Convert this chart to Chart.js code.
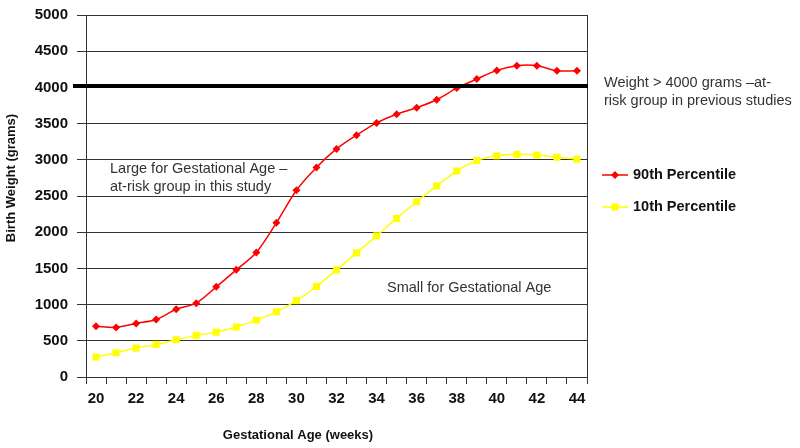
<!DOCTYPE html>
<html>
<head>
<meta charset="utf-8">
<script src="https://cdn.jsdelivr.net/npm/chart.js@4/dist/chart.umd.min.js"></script>
<style>
  html, body { margin: 0; padding: 0; background: #fff; }
  #wrap { width: 800px; height: 448px; }
</style>
</head>
<body>
<div id="wrap"><canvas id="c" width="800" height="448"></canvas></div>
<script>
// ── Data ────────────────────────────────────────────────────────────────────
const weeks = [20, 21, 22, 23, 24, 25, 26, 27, 28, 29, 30, 31, 32, 33, 34, 35, 36, 37, 38, 39, 40, 41, 42, 43, 44];
const p90   = [700, 685, 740, 795, 935, 1020, 1245, 1480, 1720, 2130, 2580, 2895, 3150, 3340, 3510, 3630, 3720, 3830, 3990, 4115, 4235, 4300, 4300, 4230, 4230];
const p10   = [275, 335, 400, 450, 515, 575, 620, 690, 785, 900, 1055, 1250, 1480, 1715, 1950, 2190, 2420, 2640, 2845, 2990, 3055, 3075, 3065, 3035, 3010];
const seriesNames = ['90th Percentile', '10th Percentile'];
const yMax = 5000, yStep = 500;
const threshold = 4000;

const FONT = "'Liberation Sans', Arial, sans-serif";

// ── Extras: threshold line, border, titles, notes, legend ───────────────────
const extras = {
  id: 'extras',
  afterDatasetsDraw(chart) {
    const { ctx, chartArea: a, scales: { y } } = chart;
    ctx.save();

    // right border
    ctx.strokeStyle = '#333';
    ctx.lineWidth = 1;
    ctx.beginPath();
    ctx.moveTo(a.right + 0.5, a.top);
    ctx.lineTo(a.right + 0.5, a.bottom);
    ctx.stroke();

    // thick 4000 g line
    const ty = y.getPixelForValue(threshold) - 1.5;
    ctx.strokeStyle = '#000';
    ctx.lineWidth = 4;
    ctx.beginPath();
    ctx.moveTo(a.left - 13, ty);
    ctx.lineTo(a.right + 1, ty);
    ctx.stroke();

    // axis titles
    ctx.fillStyle = '#111';
    ctx.font = 'bold 13px ' + FONT;
    ctx.textAlign = 'center';
    ctx.textBaseline = 'middle';
    ctx.fillText('Gestational Age (weeks)', 298, 435);
    ctx.save();
    ctx.translate(11, 178);
    ctx.rotate(-Math.PI / 2);
    ctx.fillText('Birth Weight (grams)', 0, 0);
    ctx.restore();

    // notes
    ctx.fillStyle = '#333';
    ctx.font = '14.5px ' + FONT;
    ctx.textAlign = 'left';
    ctx.fillText('Weight > 4000 grams \u2013at-', 604, 83);
    ctx.fillText('risk group in previous studies', 604, 101);
    ctx.fillText('Large for Gestational Age \u2013', 110, 169);
    ctx.fillText('at-risk group in this study', 110, 187);
    ctx.fillText('Small for Gestational Age', 387, 288);

    // legend
    const items = [
      { label: seriesNames[0], color: '#ff0000', y: 175, style: 'rectRot', r: 4 },
      { label: seriesNames[1], color: '#ffff00', y: 207, style: 'rect', r: 5 }
    ];
    items.forEach(it => {
      ctx.strokeStyle = it.color;
      ctx.lineWidth = 1.5;
      ctx.beginPath();
      ctx.moveTo(602, it.y);
      ctx.lineTo(628, it.y);
      ctx.stroke();
      ctx.fillStyle = it.color;
      Chart.helpers.drawPoint(ctx, { pointStyle: it.style, radius: it.r, borderWidth: 0 }, 615, it.y);
      ctx.fillStyle = '#111';
      ctx.font = 'bold 14.5px ' + FONT;
      ctx.fillText(it.label, 633, it.y);
    });

    ctx.restore();
  }
};

// ── Chart ───────────────────────────────────────────────────────────────────
new Chart(document.getElementById('c'), {
  type: 'line',
  data: {
    labels: weeks,
    datasets: [
      {
        label: seriesNames[0],
        data: p90,
        borderColor: '#ff0000',
        backgroundColor: '#ff0000',
        borderWidth: 1.5,
        pointStyle: 'rectRot',
        pointRadius: 4,
        pointBorderWidth: 0,
        tension: 0.3
      },
      {
        label: seriesNames[1],
        data: p10,
        borderColor: '#ffff00',
        backgroundColor: '#ffff00',
        borderWidth: 1.5,
        pointStyle: 'rect',
        pointRadius: 5,
        pointBorderWidth: 0,
        tension: 0.3
      }
    ]
  },
  options: {
    responsive: false,
    animation: false,
    devicePixelRatio: 1,
    layout: { padding: { top: 15, right: 213, left: 0, bottom: 0 } },
    plugins: {
      legend: { display: false },
      tooltip: { enabled: false }
    },
    scales: {
      x: {
        type: 'category',
        offset: true,
        afterFit: s => { s.height = 71; s.paddingLeft = 0; s.paddingRight = 0; },
        grid: { drawOnChartArea: false, drawTicks: true, tickLength: 7, offset: true, color: '#333', tickColor: '#333' },
        border: { color: '#333', width: 1 },
        ticks: {
          autoSkip: false,
          maxRotation: 0,
          padding: 6,
          color: '#111',
          font: { family: FONT, size: 15, weight: 'bold' },
          callback: (v, i) => (weeks[i] % 2 === 0 ? String(weeks[i]) : '')
        }
      },
      y: {
        min: 0,
        max: yMax,
        afterFit: s => { s.width = 86; s.paddingTop = 0; s.paddingBottom = 0; },
        grid: { color: '#333', tickLength: 9, tickColor: '#333' },
        border: { color: '#333', width: 1 },
        ticks: {
          stepSize: yStep,
          padding: 9,
          color: '#111',
          font: { family: FONT, size: 15, weight: 'bold' },
          callback: v => String(v)
        }
      }
    }
  },
  plugins: [extras]
});
</script>
</body>
</html>
